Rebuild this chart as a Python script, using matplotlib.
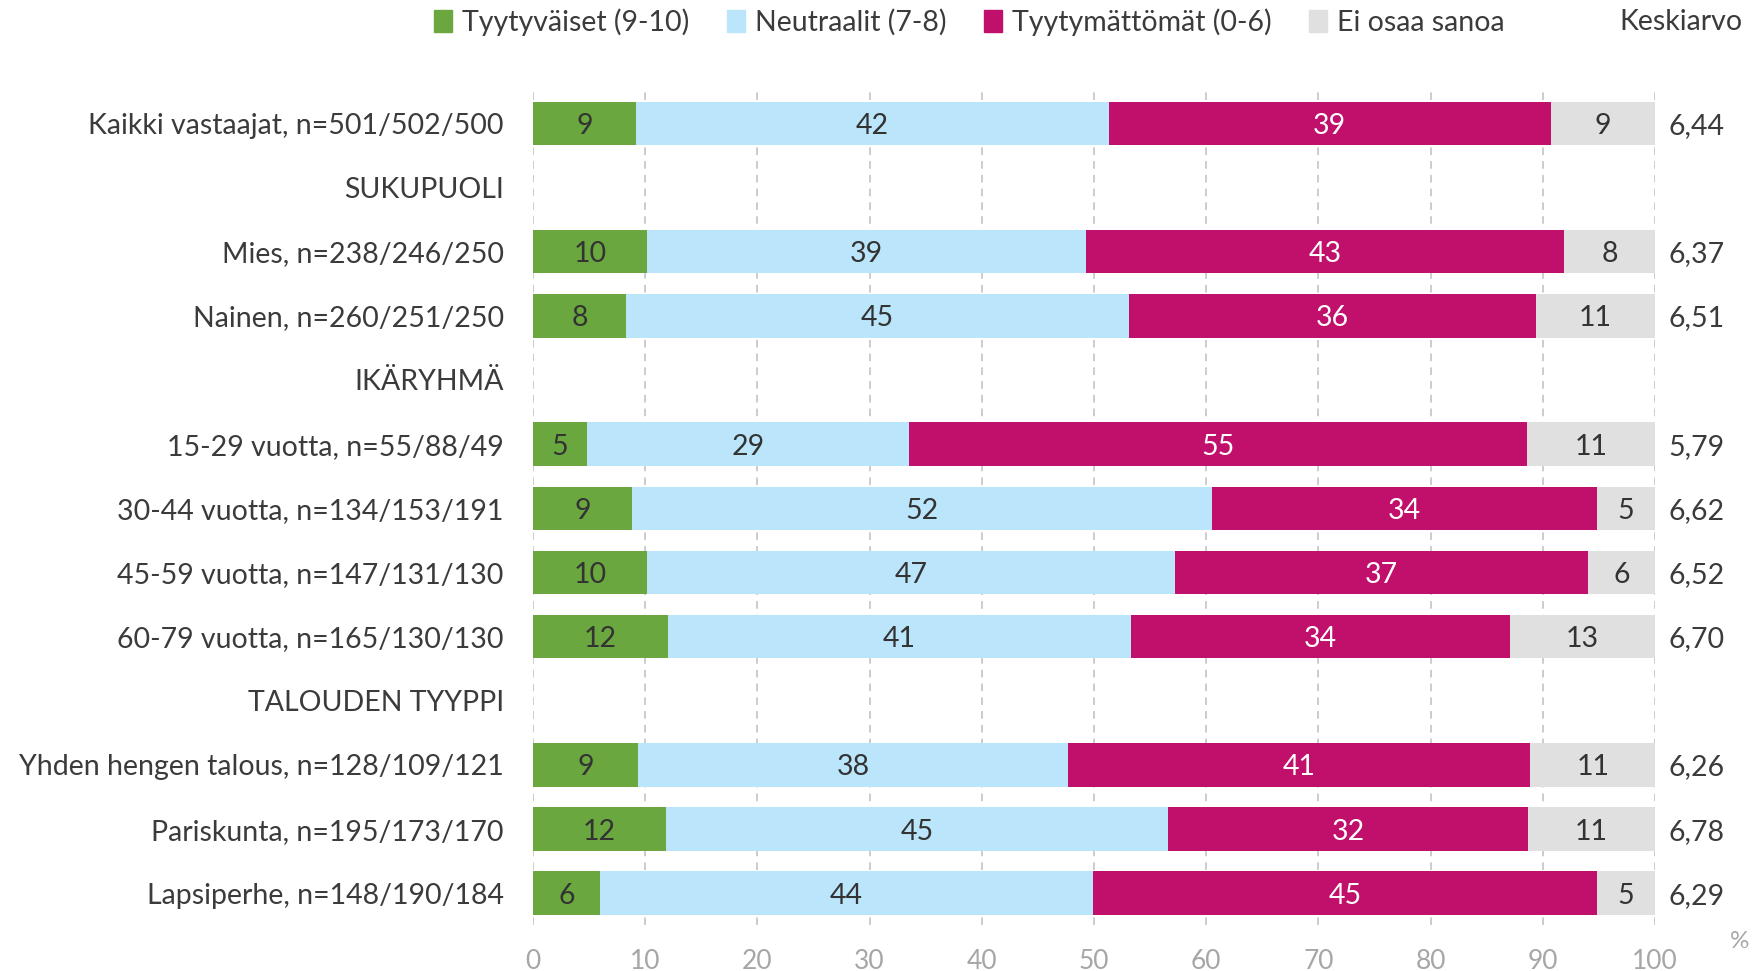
import numpy as np
import matplotlib
matplotlib.use("Agg")
import matplotlib.pyplot as plt
import matplotlib.patches as mpatches
import matplotlib.transforms as mtransforms

plt.rcParams['font.family'] = ['Lato', 'DejaVu Sans']

nan = np.nan

categories = ['Kaikki vastaajat, n=501/502/500', 'SUKUPUOLI',
              'Mies, n=238/246/250', 'Nainen, n=260/251/250', 'IKÄRYHMÄ',
              '15-29 vuotta, n=55/88/49', '30-44 vuotta, n=134/153/191',
              '45-59 vuotta, n=147/131/130', '60-79 vuotta, n=165/130/130',
              'TALOUDEN TYYPPI', 'Yhden hengen talous, n=128/109/121',
              'Pariskunta, n=195/173/170', 'Lapsiperhe, n=148/190/184']

tyytyvaiset   = [9.2, nan, 10.2, 8.3, nan, 4.8, 8.8, 10.2, 12.0, nan, 9.4, 11.9, 6.0]
neutraalit    = [42.1, nan, 39.1, 44.8, nan, 28.7, 51.7, 47.0, 41.3, nan, 38.3, 44.7, 43.9]
tyytymattomat = [39.4, nan, 42.6, 36.3, nan, 55.1, 34.3, 36.8, 33.8, nan, 41.2, 32.1, 44.9]
eos           = [9.3, nan, 8.1, 10.6, nan, 11.4, 5.2, 6.0, 12.9, nan, 11.1, 11.3, 5.2]
keskiarvo     = [6.44, nan, 6.37, 6.51, nan, 5.79, 6.62, 6.52, 6.70, nan, 6.26, 6.78, 6.29]

series = [tyytyvaiset, neutraalit, tyytymattomat, eos]
names = ['Tyytyväiset (9-10)', 'Neutraalit (7-8)', 'Tyytymättömät (0-6)', 'Ei osaa sanoa']
colors = ['#6aa83f', '#bbe5fa', '#c1106c', '#e0e0e0']
txtcol = ['#333333', '#333333', 'white', '#333333']
dark = '#3b3b3b'
fs = 20.5

fig = plt.figure(figsize=(17.56, 9.71), dpi=100)
ax = fig.add_axes([0.3035, 0.047, 0.639, 0.859])

y = np.arange(len(categories))
left = np.zeros(len(categories))
for vals, c, tc in zip(series, colors, txtcol):
    v = np.array(vals)
    ax.barh(y, np.nan_to_num(v), left=left, height=0.68, color=c, zorder=2)
    for yi, (val, l) in enumerate(zip(v, left)):
        if not np.isnan(val):
            ax.text(l + val / 2, yi, f"{round(val)}", ha='center', va='center_baseline',
                    color=tc, fontsize=fs, zorder=3)
    left = left + np.nan_to_num(v)

trans = mtransforms.blended_transform_factory(ax.transAxes, ax.transData)
for yi, k in enumerate(keskiarvo):
    if not np.isnan(k):
        ax.text(1.012, yi, f"{k:.2f}".replace('.', ','), transform=trans,
                ha='left', va='center_baseline', color=dark, fontsize=fs)

ax.set_xlim(0, 100)
ax.set_ylim(len(categories) - 0.5, -0.5)
ax.set_xticks(range(0, 101, 10))
ax.set_yticks(y)
ax.set_yticklabels(categories)
ax.tick_params(axis='y', length=0, pad=21, labelsize=fs, labelcolor=dark)
ax.tick_params(axis='x', length=0, pad=17, labelsize=fs - 1.5, labelcolor='#a6a6a6')
ax.grid(axis='x', color='#bfbfbf', linestyle=(0, (5, 4)), linewidth=1.1, zorder=0)
ax.set_axisbelow(True)
for s in ax.spines.values():
    s.set_visible(False)

handles = [mpatches.Patch(color=c, label=n) for c, n in zip(colors, names)]
fig.legend(handles=handles, loc='center', bbox_to_anchor=(0.552, 0.977), ncol=4,
           frameon=False, fontsize=fs, handlelength=0.65, handleheight=0.8,
           handletextpad=0.35, columnspacing=1.3, labelcolor=dark)
fig.text(0.957, 0.977, 'Keskiarvo', ha='center', va='center', fontsize=fs, color=dark)
fig.text(0.996, 0.03, '%', ha='right', va='center', fontsize=fs - 3, color='#a6a6a6')

fig.savefig('out.png', dpi=100)
